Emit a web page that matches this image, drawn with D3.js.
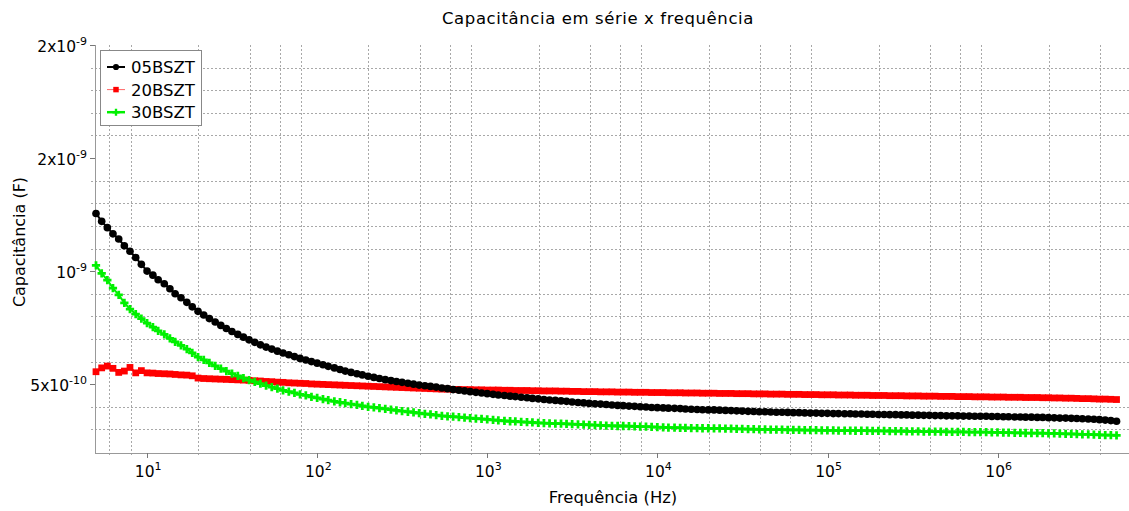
<!DOCTYPE html>
<html><head><meta charset="utf-8">
<script src="https://cdn.jsdelivr.net/npm/d3@7"></script>
<style>
html,body{margin:0;padding:0;background:#fff;}
svg text{font-family:"DejaVu Sans",Verdana,sans-serif;fill:#000;}
</style></head>
<body>
<svg id="chart" width="1129" height="511"></svg>
<script>
// ---- data (capacitance in units of 1e-10 F) ----
const seriesNames = ["05BSZT", "20BSZT", "30BSZT"];
const freq = [
5,5.4,5.83,6.29,6.8,7.34,7.92,8.56,9.24,9.98,10.8,11.6,12.6,13.6,14.6,15.8,17.1,18.4,19.9,21.5,23.2,25.1,27.1,29.2,31.5,34.1,36.8,39.7,42.9,46.3,
50,54,58.3,62.9,68,73.4,79.2,85.6,92.4,99.8,108,116,126,136,146,158,171,184,199,215,232,251,271,292,315,341,368,397,429,463,
500,540,583,629,680,734,792,856,924,998,1080,1160,1260,1360,1460,1580,1710,1840,1990,2150,2320,2510,2710,2920,3150,3410,3680,3970,4290,4630,
5000,5400,5830,6290,6800,7340,7920,8560,9240,9980,10800,11600,12600,13600,14600,15800,17100,18400,19900,21500,23200,25100,27100,29200,31500,34100,36800,39700,42900,46300,
50000,54000,58300,62900,68000,73400,79200,85600,92400,99800,108000,116000,126000,136000,146000,158000,171000,184000,199000,215000,232000,251000,271000,292000,315000,341000,368000,397000,429000,463000,
500000,540000,583000,629000,680000,734000,792000,856000,924000,998000,1080000,1160000,1260000,1360000,1460000,1580000,1710000,1840000,1990000,2150000,2320000,2510000,2710000,2920000,3150000,3410000,3680000,3970000,4290000,4630000,
5000000];
const c05BSZT = [
12.55,12.2,11.92,11.65,11.42,11.12,10.88,10.6,10.3,10.0,
9.82,9.62,9.44,9.22,9.0,8.82,8.62,8.42,8.22,8.06,
7.9,7.75,7.6,7.46,7.33,7.2,7.08,6.96,6.85,6.74,
6.64,6.55,6.46,6.38,6.3,6.22,6.14,6.07,6.0,5.93,
5.86,5.79,5.72,5.65,5.58,5.52,5.46,5.41,5.35,5.3,
5.25,5.2,5.16,5.12,5.08,5.04,5.0,4.96,4.93,4.9,
4.87,4.83,4.8,4.76,4.73,4.7,4.67,4.64,4.61,4.58,
4.55,4.52,4.5,4.47,4.45,4.42,4.4,4.37,4.35,4.32,
4.3,4.28,4.26,4.24,4.21,4.19,4.17,4.15,4.13,4.12,
4.1,4.08,4.06,4.05,4.03,4.02,4.0,3.99,3.97,3.96,
3.95,3.94,3.93,3.92,3.9,3.89,3.88,3.87,3.86,3.86,
3.85,3.84,3.83,3.82,3.81,3.8,3.79,3.78,3.78,3.77,
3.76,3.76,3.75,3.74,3.74,3.73,3.72,3.72,3.71,3.71,
3.7,3.7,3.69,3.69,3.68,3.68,3.67,3.67,3.66,3.66,
3.65,3.65,3.64,3.64,3.63,3.63,3.62,3.62,3.61,3.61,
3.6,3.6,3.6,3.59,3.59,3.58,3.58,3.58,3.57,3.57,
3.56,3.56,3.55,3.55,3.54,3.54,3.53,3.53,3.52,3.51,
3.5,3.5,3.49,3.48,3.47,3.46,3.45,3.43,3.41,3.39,
3.36];
const c20BSZT = [
5.55,5.72,5.8,5.7,5.52,5.58,5.74,5.5,5.6,5.5,
5.49,5.47,5.46,5.45,5.43,5.41,5.4,5.37,5.27,5.25,
5.24,5.23,5.22,5.21,5.2,5.19,5.18,5.17,5.15,5.14,
5.12,5.11,5.09,5.08,5.06,5.05,5.04,5.03,5.01,5.0,
4.99,4.98,4.97,4.96,4.95,4.94,4.93,4.92,4.91,4.9,
4.89,4.88,4.87,4.86,4.85,4.84,4.83,4.82,4.81,4.8,
4.79,4.78,4.78,4.77,4.77,4.76,4.76,4.75,4.75,4.74,
4.74,4.74,4.73,4.73,4.72,4.72,4.72,4.71,4.71,4.7,
4.7,4.7,4.69,4.69,4.68,4.68,4.67,4.67,4.67,4.66,
4.66,4.66,4.65,4.65,4.65,4.64,4.64,4.64,4.63,4.63,
4.63,4.62,4.62,4.62,4.61,4.61,4.61,4.6,4.6,4.6,
4.59,4.59,4.59,4.58,4.58,4.58,4.57,4.57,4.57,4.56,
4.56,4.56,4.55,4.55,4.55,4.54,4.54,4.54,4.53,4.53,
4.53,4.52,4.52,4.52,4.51,4.51,4.51,4.5,4.5,4.5,
4.49,4.49,4.49,4.48,4.48,4.48,4.47,4.47,4.47,4.46,
4.46,4.46,4.45,4.45,4.45,4.44,4.44,4.44,4.43,4.43,
4.43,4.42,4.42,4.42,4.41,4.41,4.41,4.4,4.4,4.39,
4.39,4.38,4.38,4.37,4.36,4.36,4.35,4.34,4.34,4.33,
4.32];
const c30BSZT = [
10.25,9.9,9.6,9.25,8.95,8.6,8.32,8.1,7.9,7.7,
7.52,7.36,7.2,7.03,6.87,6.72,6.55,6.38,6.2,6.07,
5.94,5.81,5.69,5.58,5.47,5.37,5.27,5.18,5.1,5.02,
4.94,4.87,4.8,4.73,4.67,4.61,4.55,4.5,4.44,4.39,
4.34,4.29,4.24,4.2,4.16,4.12,4.08,4.04,4.0,3.97,
3.94,3.91,3.87,3.84,3.81,3.78,3.75,3.72,3.69,3.66,
3.63,3.6,3.58,3.56,3.54,3.52,3.5,3.48,3.46,3.44,
3.42,3.4,3.38,3.36,3.35,3.33,3.32,3.31,3.29,3.28,
3.27,3.26,3.25,3.24,3.23,3.22,3.21,3.2,3.19,3.18,
3.17,3.16,3.15,3.15,3.14,3.13,3.12,3.12,3.11,3.1,
3.09,3.08,3.08,3.07,3.07,3.06,3.06,3.05,3.05,3.04,
3.04,3.03,3.03,3.02,3.02,3.01,3.01,3.0,3.0,2.99,
2.99,2.99,2.98,2.98,2.98,2.97,2.97,2.97,2.96,2.96,
2.96,2.95,2.95,2.95,2.94,2.94,2.94,2.93,2.93,2.93,
2.92,2.92,2.92,2.91,2.91,2.91,2.9,2.9,2.9,2.9,
2.89,2.89,2.89,2.89,2.88,2.88,2.88,2.88,2.87,2.87,
2.86,2.86,2.85,2.85,2.84,2.84,2.83,2.83,2.82,2.82,
2.81,2.8,2.8,2.79,2.78,2.78,2.77,2.76,2.75,2.75,
2.74];
const xMajorTicks = [10, 100, 1000, 10000, 100000, 1000000];
const xMajorLabels = [["10","1"],["10","2"],["10","3"],["10","4"],["10","5"],["10","6"]];
const xGridMultipliers = [2, 4, 6, 8];
const yMajorTicks = [5, 10, 15, 20];
const yMajorLabels = [["5x10","-10"],["10","-9"],["2x10","-9"],["2x10","-9"]];
const yGridValues = [3,4,6,7,8,9,11,12,13,14,16,17,18,19];

// ---- layout ----
const svg = d3.select("#chart");
const L = 95, R = 1129, T = 45, B = 453;
const x = d3.scaleLog().domain([5, 6e6]).range([96, 1130]);
const y = d3.scaleLinear().domain([2, 20]).range([452, 45]);

// grid
const xGrid = [];
[1,10,100,1000,10000,100000,1000000].forEach(d => xGridMultipliers.forEach(m => {
  const v = d*m; if (v > 5 && v < 6e6) xGrid.push(v);
}));
const g = svg.append("g");
g.selectAll(".vg").data(xGrid).join("line")
  .attr("x1", d => Math.round(x(d))+0.5).attr("x2", d => Math.round(x(d))+0.5)
  .attr("y1", T).attr("y2", B+3)
  .attr("stroke", "#a8a8a8").attr("stroke-width", 1).attr("stroke-dasharray", "2,2");
g.selectAll(".hg").data(yGridValues).join("line")
  .attr("y1", d => Math.round(y(d))+0.5).attr("y2", d => Math.round(y(d))+0.5)
  .attr("x1", L-4).attr("x2", R)
  .attr("stroke", "#a8a8a8").attr("stroke-width", 1).attr("stroke-dasharray", "2,2");

// axes lines
svg.append("line").attr("x1", L+0.5).attr("x2", L+0.5).attr("y1", T).attr("y2", B+0.5)
  .attr("stroke", "#999").attr("stroke-width", 1);
svg.append("line").attr("x1", L).attr("x2", R).attr("y1", B+0.5).attr("y2", B+0.5)
  .attr("stroke", "#999").attr("stroke-width", 1);

// major ticks x
svg.selectAll(".xt").data(xMajorTicks).join("line")
  .attr("x1", d => Math.round(x(d))+0.5).attr("x2", d => Math.round(x(d))+0.5)
  .attr("y1", B).attr("y2", B+5).attr("stroke", "#777");
const xl = svg.selectAll(".xl").data(xMajorTicks).join("text")
  .attr("x", d => x(d)+1).attr("y", 477).attr("text-anchor", "middle").attr("font-size", 15.5);
xl.append("tspan").text((d,i) => xMajorLabels[i][0]);
xl.append("tspan").attr("dy", -7).attr("font-size", 11).text((d,i) => xMajorLabels[i][1]);

// major ticks y
svg.selectAll(".yt").data(yMajorTicks).join("line")
  .attr("y1", d => Math.round(y(d))+0.5).attr("y2", d => Math.round(y(d))+0.5)
  .attr("x1", L-5).attr("x2", L).attr("stroke", "#777");
const yl = svg.selectAll(".yl").data(yMajorTicks).join("text")
  .attr("x", 87).attr("y", d => y(d)+6.5).attr("text-anchor", "end").attr("font-size", 15.5);
yl.append("tspan").text((d,i) => yMajorLabels[i][0]);
yl.append("tspan").attr("dy", -7).attr("font-size", 11).text((d,i) => yMajorLabels[i][1]);

// titles
svg.append("text").attr("x", 598).attr("y", 24).attr("text-anchor", "middle")
  .attr("font-size", 16.5).attr("letter-spacing", 0.6).text("Capacitância em série x frequência");
svg.append("text").attr("x", 613).attr("y", 503).attr("text-anchor", "middle")
  .attr("font-size", 16.4).text("Frequência (Hz)");
svg.append("text").attr("transform", "translate(25,242) rotate(-90)").attr("text-anchor", "middle")
  .attr("font-size", 16).text("Capacitância (F)");

// series
const series = [
  {name: seriesNames[1], vals: c20BSZT, color: "#ff0000", sym: d3.symbolSquare, size: 46, lw: 2},
  {name: seriesNames[0], vals: c05BSZT, color: "#000000", sym: d3.symbolCircle, size: 46, lw: 2},
  {name: seriesNames[2], vals: c30BSZT, color: "#00f000", sym: d3.symbolCross, size: 38, lw: 2}
];
const line = d3.line().x(d => x(d[0])).y(d => y(d[1]));
series.forEach(s => {
  const pts = freq.map((f,i) => [f, s.vals[i]]);
  svg.append("path").datum(pts).attr("d", line).attr("fill", "none")
    .attr("stroke", s.color).attr("stroke-width", s.lw);
  svg.append("g").selectAll("path").data(pts).join("path")
    .attr("transform", d => `translate(${x(d[0])},${y(d[1])})`)
    .attr("d", d3.symbol().type(s.sym).size(s.size)).attr("fill", s.color);
});

// legend
const lg = svg.append("g");
lg.append("rect").attr("x", 100.5).attr("y", 50.5).attr("width", 101).attr("height", 75)
  .attr("fill", "#fff").attr("stroke", "#888");
const legendItems = [
  {name: seriesNames[0], color: "#000000", sym: d3.symbolCircle, size: 30, lw: 2},
  {name: seriesNames[1], color: "#ff0000", sym: d3.symbolSquare, size: 30, lw: 1},
  {name: seriesNames[2], color: "#00f000", sym: d3.symbolCross, size: 28, lw: 2.5}
];
legendItems.forEach((it, i) => {
  const yy = 67 + i*22.6;
  lg.append("line").attr("x1", 107).attr("x2", 125).attr("y1", yy).attr("y2", yy)
    .attr("stroke", it.color).attr("stroke-width", it.lw).attr("opacity", it.lw === 1 ? 0.6 : 1);
  lg.append("path").attr("transform", `translate(116,${yy})`)
    .attr("d", d3.symbol().type(it.sym).size(it.size)).attr("fill", it.color);
  lg.append("text").attr("x", 131).attr("y", yy+6).attr("font-size", 16.5).text(it.name);
});
</script>
</body></html>
